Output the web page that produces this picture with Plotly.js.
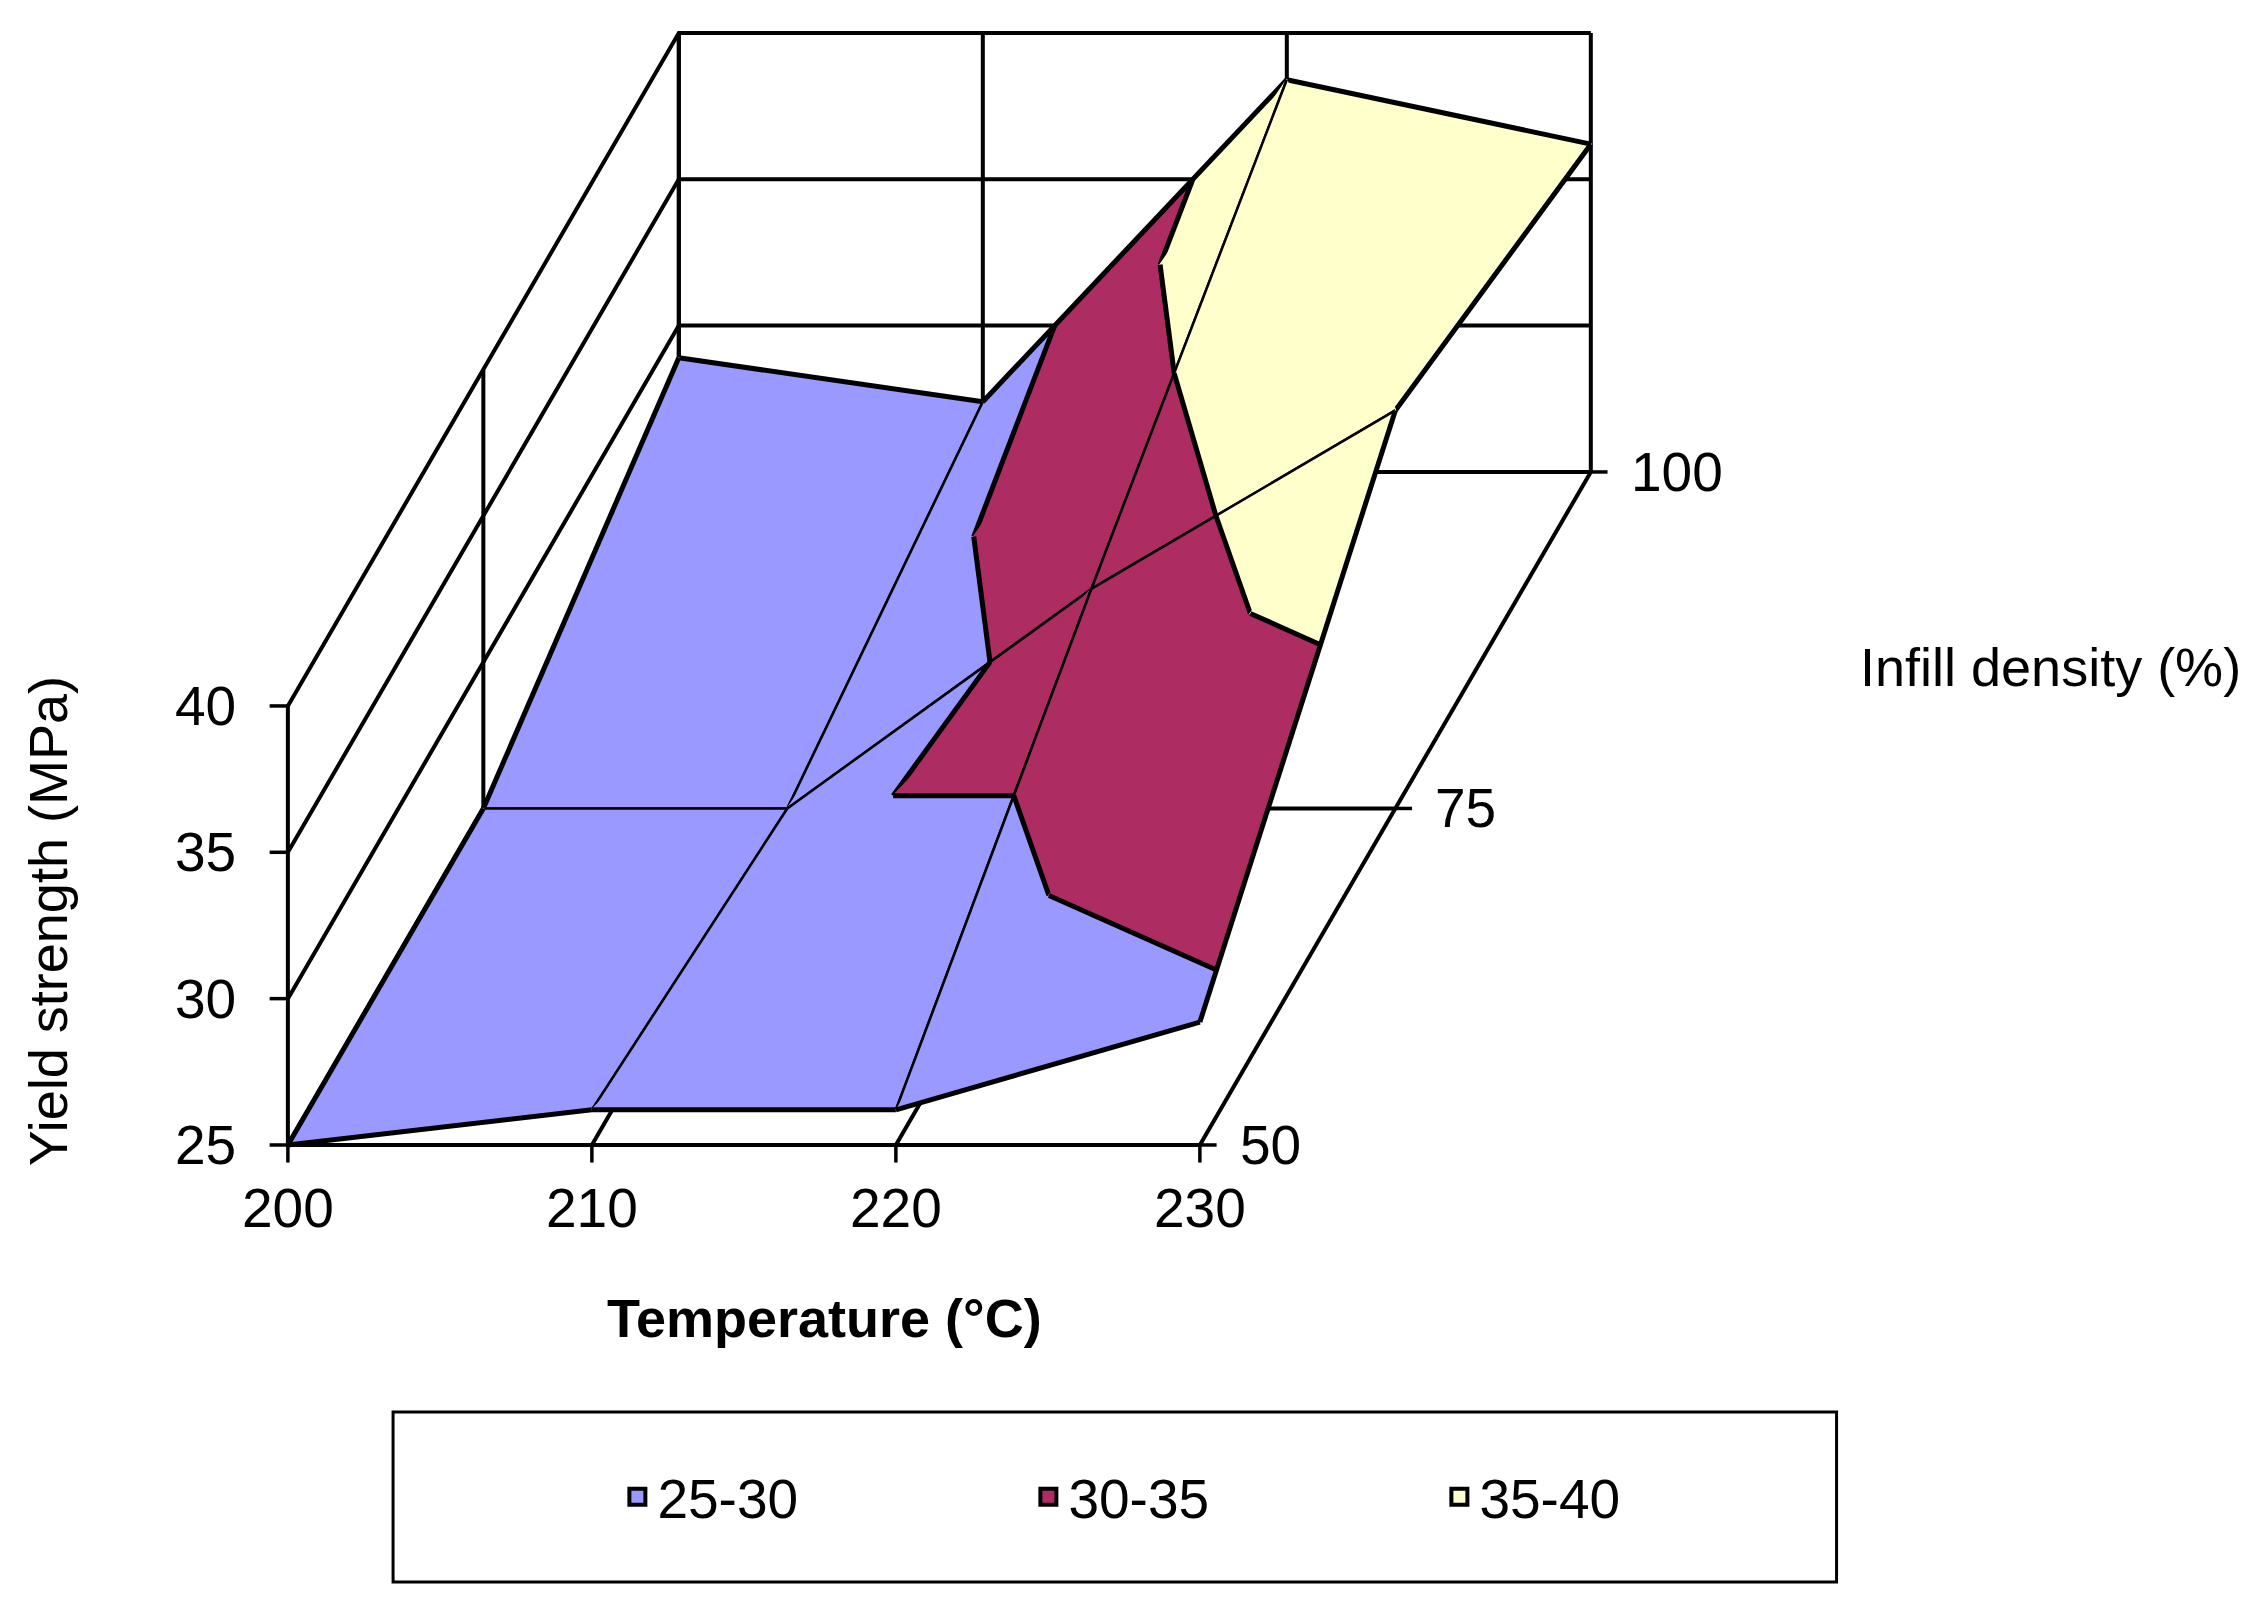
<!DOCTYPE html>
<html>
<head>
<meta charset="utf-8">
<script src="https://cdn.plot.ly/plotly-3.0.1.min.js"></script>
<style>
  body { margin: 0; background: #ffffff; }
  #chart { width: 2259px; height: 1608px; }
</style>
</head>
<body>
<div id="chart"></div>
<script>
// temperature (deg C) along the front, infill density (%) going back
var temperature = [200, 210, 220, 230];
var infill = [50, 75, 100];
var strengthTicks = [25, 30, 35, 40];

// yield strength (MPa), one row per infill density
var yield50 = [25.0, 26.2, 26.2, 29.2];
var yield75 = [25.0, 25.0, 32.5, 38.6];
var yield100 = [28.9, 27.4, 38.4, 36.2];

var bandNames = ["25-30", "30-35", "35-40"];
var bandLimits = [25, 30, 35, 40];
var bandColors = ["#9999ff", "#ad2c62", "#ffffcc"];

var font = "Liberation Sans, Arial, sans-serif";

// oblique view like the Excel 3-D surface: depth goes up and to the right
var depthShiftX = 0.2572; // degC of x-axis per % of infill
var depthShiftY = 0.4599; // MPa of y-axis per % of infill

function projX(p) {
    return p[0] + (p[1] - infill[0]) * depthShiftX;
}

function projY(p) {
    return p[2] + (p[1] - infill[0]) * depthShiftY;
}

var traces = [];

function addLine(points, width) {
    traces.push({
        type: "scatter",
        mode: "lines",
        x: points.map(projX),
        y: points.map(projY),
        line: { color: "#000000", width: width },
        hoverinfo: "skip",
        showlegend: false,
    });
}

function addFill(points, color) {
    var ring = points.concat([points[0]]);
    traces.push({
        type: "scatter",
        mode: "lines",
        x: ring.map(projX),
        y: ring.map(projY),
        fill: "toself",
        fillcolor: color,
        // same-colour outline hides the seams between patches
        line: { width: 1.5, color: color },
        hoverinfo: "skip",
        showlegend: false,
    });
}

// keep the part of a polygon where sign * (z - level) >= 0
function clipPolygon(poly, level, sign) {
    var out = [];
    for (var k = 0; k < poly.length; k++) {
        var a = poly[k],
            b = poly[(k + 1) % poly.length];
        var fa = sign * (a[2] - level),
            fb = sign * (b[2] - level);
        if (fa >= 0) out.push(a);
        if ((fa > 0 && fb < 0) || (fa < 0 && fb > 0)) {
            var t = fa / (fa - fb);
            out.push([a[0] + t * (b[0] - a[0]), a[1] + t * (b[1] - a[1]), level]);
        }
    }
    return out;
}

function contourSegment(tri, level) {
    var pts = [];
    for (var k = 0; k < 3; k++) {
        var a = tri[k],
            b = tri[(k + 1) % 3];
        if ((a[2] - level) * (b[2] - level) < 0) {
            var t = (level - a[2]) / (b[2] - a[2]);
            pts.push([a[0] + t * (b[0] - a[0]), a[1] + t * (b[1] - a[1]), level]);
        }
    }
    return pts;
}

function drawWalls() {
    var t0 = temperature[0],
        t1 = temperature[temperature.length - 1];
    var d0 = infill[0],
        d1 = infill[infill.length - 1];
    var z0 = strengthTicks[0],
        z1 = strengthTicks[strengthTicks.length - 1];

    // left wall and back wall
    for (var k in strengthTicks) {
        var z = strengthTicks[k];
        addLine([[t0, d0, z], [t0, d1, z], [t1, d1, z]], 4);
    }
    for (var k in infill) {
        addLine([[t0, infill[k], z0], [t0, infill[k], z1]], 4);
    }
    for (var k in temperature) {
        addLine([[temperature[k], d1, z0], [temperature[k], d1, z1]], 4);
    }

    // floor
    for (var k in infill) {
        addLine([[t0, infill[k], z0], [t1, infill[k], z0]], 4);
    }
    for (var k in temperature) {
        addLine([[temperature[k], d0, z0], [temperature[k], d1, z0]], 4);
    }
}

function drawSurface() {
    var grid = [yield50, yield75, yield100];
    var ni = temperature.length - 1,
        nj = infill.length - 1;

    function vertex(i, j) {
        return [temperature[i], infill[j], grid[j][i]];
    }

    function edgeWidth(a, b) {
        var outer =
            (a[0] === b[0] && (a[0] === temperature[0] || a[0] === temperature[ni])) ||
            (a[1] === b[1] && (a[1] === infill[0] || a[1] === infill[nj]));
        return outer ? 5 : 2.5;
    }

    // back rows first, left cells first, so nearer patches paint over
    for (var j = nj - 1; j >= 0; j--) {
        for (var i = 0; i < ni; i++) {
            var p00 = vertex(i, j),
                p10 = vertex(i + 1, j),
                p01 = vertex(i, j + 1),
                p11 = vertex(i + 1, j + 1);

            // split each cell along the diagonal joining the higher corners;
            // each triangle keeps its two mesh edges, the diagonal is not drawn
            var tris;
            if (p00[2] + p11[2] >= p10[2] + p01[2]) {
                tris = [
                    { pts: [p00, p01, p11], edges: [[p00, p01], [p01, p11]] },
                    { pts: [p00, p10, p11], edges: [[p00, p10], [p10, p11]] },
                ];
            } else {
                tris = [
                    { pts: [p10, p11, p01], edges: [[p10, p11], [p11, p01]] },
                    { pts: [p00, p10, p01], edges: [[p00, p10], [p00, p01]] },
                ];
            }

            for (var n in tris) {
                var tri = tris[n].pts;
                for (var b = 0; b < bandNames.length; b++) {
                    var piece = clipPolygon(tri, bandLimits[b], 1);
                    if (b < bandNames.length - 1) piece = clipPolygon(piece, bandLimits[b + 1], -1);
                    if (piece.length >= 3) addFill(piece, bandColors[b]);
                }
                var edges = tris[n].edges;
                for (var e in edges) {
                    addLine(edges[e], edgeWidth(edges[e][0], edges[e][1]));
                }
                for (var b = 1; b < bandLimits.length - 1; b++) {
                    var seg = contourSegment(tri, bandLimits[b]);
                    if (seg.length === 2) addLine(seg, 5);
                }
            }
        }
    }
}

function drawTicks() {
    var t1 = temperature[temperature.length - 1];
    var annotations = [];
    var tickStyle = { family: font, size: 55, color: "#000000" };

    for (var k in strengthTicks) {
        var p = [temperature[0], infill[0], strengthTicks[k]];
        addLine([p, [p[0] - 0.6, p[1], p[2]]], 3.5);
        annotations.push({
            text: String(strengthTicks[k]),
            x: projX(p), y: projY(p),
            xref: "x", yref: "y",
            xanchor: "right", yanchor: "middle",
            xshift: -50,
            showarrow: false,
            font: tickStyle,
        });
    }
    for (var k in temperature) {
        var p = [temperature[k], infill[0], strengthTicks[0]];
        addLine([p, [p[0], p[1], p[2] - 0.6]], 3.5);
        annotations.push({
            text: String(temperature[k]),
            x: projX(p), y: projY(p),
            xref: "x", yref: "y",
            xanchor: "center", yanchor: "middle",
            yshift: -63,
            showarrow: false,
            font: tickStyle,
        });
    }
    for (var k in infill) {
        var p = [t1, infill[k], strengthTicks[0]];
        addLine([p, [p[0] + 0.55, p[1], p[2]]], 3.5);
        annotations.push({
            text: String(infill[k]),
            x: projX(p), y: projY(p),
            xref: "x", yref: "y",
            xanchor: "left", yanchor: "middle",
            xshift: 38,
            showarrow: false,
            font: tickStyle,
        });
    }
    return annotations;
}

function drawPlot() {
    drawWalls();
    drawSurface();
    var annotations = drawTicks();

    // legend swatches
    for (var b in bandNames) {
        traces.push({
            type: "scatter",
            mode: "markers",
            x: [null],
            y: [null],
            name: bandNames[b],
            marker: {
                symbol: "square",
                size: 16,
                color: bandColors[b],
                line: { color: "#000000", width: 4 },
            },
        });
    }

    annotations.push(
        {
            text: "Yield strength (MPa)",
            xref: "paper", yref: "paper",
            x: 0.0212, y: 0.427,
            xanchor: "center", yanchor: "middle",
            textangle: -90,
            showarrow: false,
            font: { family: font, size: 54 },
        },
        {
            text: "<b>Temperature (°C)</b>",
            xref: "paper", yref: "paper",
            x: 0.365, y: 0.1803,
            xanchor: "center", yanchor: "middle",
            showarrow: false,
            font: { family: font, size: 54 },
        },
        {
            text: "Infill density (%)",
            xref: "paper", yref: "paper",
            x: 0.8225, y: 0.585,
            xanchor: "left", yanchor: "middle",
            showarrow: false,
            font: { family: font, size: 54 },
        }
    );

    var layout = {
        width: 2259,
        height: 1608,
        margin: { l: 0, r: 0, t: 0, b: 0 },
        paper_bgcolor: "#ffffff",
        plot_bgcolor: "#ffffff",
        font: { family: font, size: 54, color: "#000000" },
        showlegend: true,
        xaxis: { range: [190.53, 264.84], visible: false, fixedrange: true },
        yaxis: { range: [9.18, 64.12], visible: false, fixedrange: true },
        legend: {
            orientation: "h",
            x: 0.2733,
            xanchor: "left",
            y: 0.069,
            yanchor: "middle",
            entrywidth: 366,
            bgcolor: "rgba(0,0,0,0)",
            font: { family: font, size: 55, color: "#000000" },
        },
        shapes: [
            {
                type: "rect",
                xref: "paper",
                yref: "paper",
                x0: 0.174,
                x1: 0.813,
                y0: 0.0162,
                y1: 0.1219,
                line: { color: "#000000", width: 3 },
            },
        ],
        annotations: annotations,
    };

    Plotly.newPlot("chart", traces, layout, { staticPlot: true });
}

drawPlot();
</script>
</body>
</html>
